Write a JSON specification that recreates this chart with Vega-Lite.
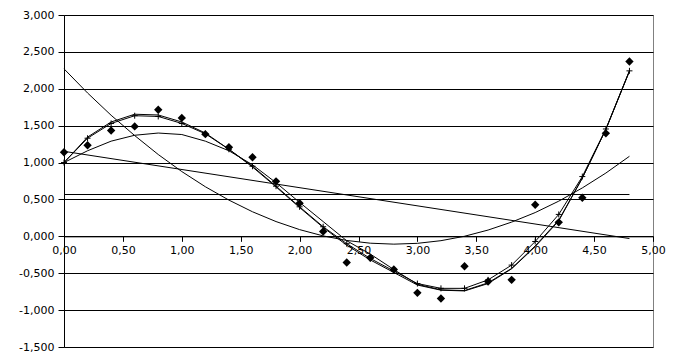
{
  "$schema": "https://vega.github.io/schema/vega-lite/v6.json",
  "autosize": "none",
  "padding": {"left": 64, "top": 15, "right": 28, "bottom": 16},
  "width": 589,
  "height": 332,
  "background": "white",
  "config": {
    "view": {"stroke": "#808080", "strokeWidth": 1},
    "axis": {
      "labelFont": "DejaVu Sans",
      "labelFontSize": 11,
      "labelColor": "#000000",
      "domainColor": "#000000",
      "tickColor": "#000000",
      "title": null
    }
  },
  "datasets": {
    "obs": [
      {"x": 0.0, "y": 1.14}, {"x": 0.2, "y": 1.235}, {"x": 0.4, "y": 1.435}, {"x": 0.6, "y": 1.49},
      {"x": 0.8, "y": 1.715}, {"x": 1.0, "y": 1.605}, {"x": 1.2, "y": 1.385}, {"x": 1.4, "y": 1.207},
      {"x": 1.6, "y": 1.072}, {"x": 1.8, "y": 0.745}, {"x": 2.0, "y": 0.45}, {"x": 2.2, "y": 0.065},
      {"x": 2.4, "y": -0.355}, {"x": 2.6, "y": -0.29}, {"x": 2.8, "y": -0.45}, {"x": 3.0, "y": -0.766},
      {"x": 3.2, "y": -0.842}, {"x": 3.4, "y": -0.405}, {"x": 3.6, "y": -0.612}, {"x": 3.8, "y": -0.59},
      {"x": 4.0, "y": 0.428}, {"x": 4.2, "y": 0.19}, {"x": 4.4, "y": 0.523}, {"x": 4.6, "y": 1.396},
      {"x": 4.8, "y": 2.369}
    ],
    "fits": [
      {"s": "mean", "x": 0.0, "y": 0.567}, {"s": "mean", "x": 4.8, "y": 0.567},
      {"s": "lin", "x": 0.0, "y": 1.152}, {"s": "lin", "x": 4.8, "y": -0.03},

      {"s": "quad", "x": 0.0, "y": 2.27}, {"s": "quad", "x": 0.2, "y": 1.943}, {"s": "quad", "x": 0.4, "y": 1.641},
      {"s": "quad", "x": 0.6, "y": 1.366}, {"s": "quad", "x": 0.8, "y": 1.109}, {"s": "quad", "x": 1.0, "y": 0.878},
      {"s": "quad", "x": 1.2, "y": 0.672}, {"s": "quad", "x": 1.4, "y": 0.491}, {"s": "quad", "x": 1.6, "y": 0.333},
      {"s": "quad", "x": 1.8, "y": 0.2}, {"s": "quad", "x": 2.0, "y": 0.091}, {"s": "quad", "x": 2.2, "y": 0.006},
      {"s": "quad", "x": 2.4, "y": -0.056}, {"s": "quad", "x": 2.6, "y": -0.093}, {"s": "quad", "x": 2.8, "y": -0.106},
      {"s": "quad", "x": 3.0, "y": -0.095}, {"s": "quad", "x": 3.2, "y": -0.059}, {"s": "quad", "x": 3.4, "y": 0.001},
      {"s": "quad", "x": 3.6, "y": 0.085}, {"s": "quad", "x": 3.8, "y": 0.193}, {"s": "quad", "x": 4.0, "y": 0.322},
      {"s": "quad", "x": 4.2, "y": 0.477}, {"s": "quad", "x": 4.4, "y": 0.656}, {"s": "quad", "x": 4.6, "y": 0.858},
      {"s": "quad", "x": 4.8, "y": 1.085},

      {"s": "cub", "x": 0.0, "y": 1.0}, {"s": "cub", "x": 0.2, "y": 1.16}, {"s": "cub", "x": 0.4, "y": 1.29},
      {"s": "cub", "x": 0.6, "y": 1.37}, {"s": "cub", "x": 0.8, "y": 1.40}, {"s": "cub", "x": 1.0, "y": 1.38},
      {"s": "cub", "x": 1.2, "y": 1.29}, {"s": "cub", "x": 1.4, "y": 1.16}, {"s": "cub", "x": 1.6, "y": 0.97},
      {"s": "cub", "x": 1.8, "y": 0.727}, {"s": "cub", "x": 2.0, "y": 0.46}, {"s": "cub", "x": 2.2, "y": 0.20},
      {"s": "cub", "x": 2.4, "y": -0.06}, {"s": "cub", "x": 2.6, "y": -0.24}, {"s": "cub", "x": 2.8, "y": -0.45},
      {"s": "cub", "x": 3.0, "y": -0.65}, {"s": "cub", "x": 3.2, "y": -0.725}, {"s": "cub", "x": 3.4, "y": -0.735},
      {"s": "cub", "x": 3.6, "y": -0.63}, {"s": "cub", "x": 3.8, "y": -0.435}, {"s": "cub", "x": 4.0, "y": -0.13},
      {"s": "cub", "x": 4.2, "y": 0.22}, {"s": "cub", "x": 4.4, "y": 0.79}, {"s": "cub", "x": 4.6, "y": 1.45},
      {"s": "cub", "x": 4.8, "y": 2.24},

      {"s": "dbl", "x": 0.0, "y": 1.0}, {"s": "dbl", "x": 0.2, "y": 1.345}, {"s": "dbl", "x": 0.4, "y": 1.55},
      {"s": "dbl", "x": 0.6, "y": 1.655}, {"s": "dbl", "x": 0.8, "y": 1.645}, {"s": "dbl", "x": 1.0, "y": 1.55},
      {"s": "dbl", "x": 1.2, "y": 1.40}, {"s": "dbl", "x": 1.4, "y": 1.18}, {"s": "dbl", "x": 1.6, "y": 0.94},
      {"s": "dbl", "x": 1.8, "y": 0.67}, {"s": "dbl", "x": 2.0, "y": 0.39}, {"s": "dbl", "x": 2.2, "y": 0.12},
      {"s": "dbl", "x": 2.4, "y": -0.12}, {"s": "dbl", "x": 2.6, "y": -0.32}, {"s": "dbl", "x": 2.8, "y": -0.49},
      {"s": "dbl", "x": 3.0, "y": -0.66}, {"s": "dbl", "x": 3.2, "y": -0.73}, {"s": "dbl", "x": 3.4, "y": -0.74},
      {"s": "dbl", "x": 3.6, "y": -0.64}, {"s": "dbl", "x": 3.8, "y": -0.44}, {"s": "dbl", "x": 4.0, "y": -0.14},
      {"s": "dbl", "x": 4.2, "y": 0.21}, {"s": "dbl", "x": 4.4, "y": 0.79}, {"s": "dbl", "x": 4.6, "y": 1.45},
      {"s": "dbl", "x": 4.8, "y": 2.24},

      {"s": "plus", "x": 0.0, "y": 1.0}, {"s": "plus", "x": 0.2, "y": 1.33}, {"s": "plus", "x": 0.4, "y": 1.53},
      {"s": "plus", "x": 0.6, "y": 1.635}, {"s": "plus", "x": 0.8, "y": 1.625}, {"s": "plus", "x": 1.0, "y": 1.53},
      {"s": "plus", "x": 1.2, "y": 1.39}, {"s": "plus", "x": 1.4, "y": 1.18}, {"s": "plus", "x": 1.6, "y": 0.95},
      {"s": "plus", "x": 1.8, "y": 0.68}, {"s": "plus", "x": 2.0, "y": 0.40}, {"s": "plus", "x": 2.2, "y": 0.13},
      {"s": "plus", "x": 2.4, "y": -0.10}, {"s": "plus", "x": 2.6, "y": -0.30}, {"s": "plus", "x": 2.8, "y": -0.47},
      {"s": "plus", "x": 3.0, "y": -0.64}, {"s": "plus", "x": 3.2, "y": -0.705}, {"s": "plus", "x": 3.4, "y": -0.705},
      {"s": "plus", "x": 3.6, "y": -0.59}, {"s": "plus", "x": 3.8, "y": -0.39}, {"s": "plus", "x": 4.0, "y": -0.07},
      {"s": "plus", "x": 4.2, "y": 0.297}, {"s": "plus", "x": 4.4, "y": 0.81}, {"s": "plus", "x": 4.6, "y": 1.455},
      {"s": "plus", "x": 4.8, "y": 2.243}
    ]
  },
  "encoding": {
    "x": {
      "field": "x", "type": "quantitative",
      "scale": {"domain": [0, 5], "nice": false, "zero": false},
      "axis": {
        "values": [0, 0.5, 1, 1.5, 2, 2.5, 3, 3.5, 4, 4.5, 5],
        "grid": false,
        "offset": -110.67,
        "tickSize": 5,
        "labelPadding": 3,
        "labelFlush": false,
        "labelExpr": "replace(format(datum.value, '.2f'), '.', ',')"
      }
    },
    "y": {
      "field": "y", "type": "quantitative",
      "scale": {"domain": [-1.5, 3], "nice": false, "zero": false},
      "axis": {
        "values": [-1.5, -1, -0.5, 0, 0.5, 1, 1.5, 2, 2.5, 3],
        "grid": true,
        "gridColor": "#000000",
        "gridOpacity": 1,
        "gridWidth": 1,
        "tickSize": 6,
        "labelPadding": 4,
        "labelExpr": "(datum.value < 0 ? '-' : '') + replace(format(abs(datum.value), '.3f'), '.', ',')"
      }
    }
  },
  "layer": [
    {
      "data": {"name": "fits"},
      "mark": {"type": "line", "color": "#000000", "strokeWidth": 1, "clip": false},
      "encoding": {"detail": {"field": "s"}}
    },
    {
      "data": {"name": "fits"},
      "transform": [{"filter": "datum.s === 'plus'"}],
      "mark": {"type": "point", "shape": "M-1,0L1,0M0,-1L0,1", "filled": false, "stroke": "#000000", "strokeWidth": 1, "size": 36, "opacity": 1}
    },
    {
      "data": {"name": "obs"},
      "mark": {"type": "point", "shape": "diamond", "filled": true, "color": "#000000", "size": 70, "opacity": 1}
    }
  ]
}
